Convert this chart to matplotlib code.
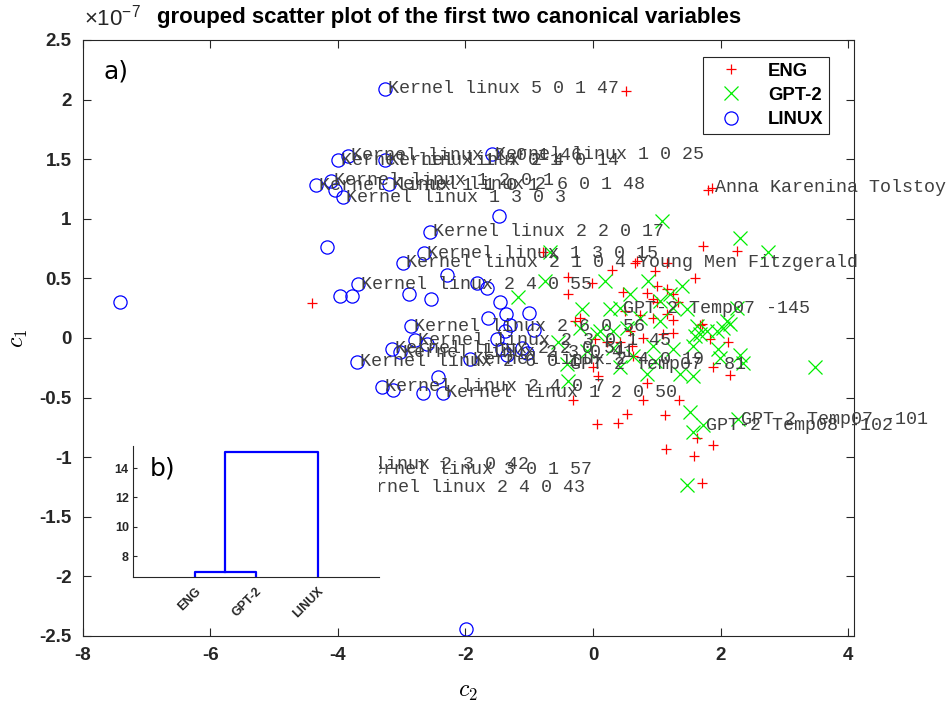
import matplotlib
matplotlib.use('Agg')
import matplotlib.pyplot as plt

# ---------------- data (c1 in units of 1e-7) ----------------
eng_c2 = [0.52, 1.87, 1.80, -4.40, -0.78, 1.72, 2.26, 0.69, 0.97, 0.30, 1.16, 1.60,
          -0.39, -0.02, -0.39, 0.47, 0.85, 1.00, 1.16, 1.25, 1.33, 1.00, -0.28, -0.20,
          0.50, 0.74, 0.94, 1.16, 1.25, 1.68, 1.71, 1.83, 2.12, 0.58, 0.78, 1.10, 1.25,
          0.03, 0.22, 0.42, 0.61, 0.63, 0.00, 0.08, 0.85, 1.88, 2.15, -0.31, 0.78, 1.35,
          0.53, 0.39, 0.06, 1.13, 1.63, 1.88, 1.14, 1.58, 1.71, 0.94, 0.66]
eng_c1 = [2.07, 1.26, 1.24, 0.29, 0.72, 0.77, 0.73, 0.65, 0.56, 0.57, 0.63, 0.50,
          0.51, 0.46, 0.37, 0.39, 0.38, 0.44, 0.41, 0.37, 0.30, 0.30, 0.14, 0.17,
          0.23, 0.19, 0.17, 0.20, 0.15, 0.11, 0.12, -0.01, -0.03, 0.06, 0.00, 0.03, 0.04,
          -0.01, -0.03, -0.03, -0.07, -0.15, -0.24, -0.32, -0.38, -0.24, -0.31, -0.52, -0.52, -0.52,
          -0.64, -0.71, -0.72, -0.65, -0.84, -0.90, -0.93, -0.99, -1.22, 0.33, 0.63]
eng_names = {1: 'Anna Karenina Tolstoy', 60: 'Young Men Fitzgerald'}

gpt_c2 = [1.08, 2.30, 2.74, -0.67, -0.75, 0.19, 0.86, 1.39, -1.18, -0.17, 0.27, 0.58,
          1.21, 1.47, 2.26, 2.10, 1.94, 1.63, 1.68, 0.74, 0.53, 0.31, 0.06, -0.20,
          -0.55, -0.09, 0.31, 0.63, 0.94, 1.25, 1.57, 1.96, 1.99, 2.30, 2.35, 1.36,
          1.57, 0.85, -0.39, 3.48, 1.52, 1.57, 1.72, 2.27, 1.47, -0.41, 0.42, 1.25,
          2.04, 2.15, 1.79, 1.60, 0.11, 1.05, 0.97, 0.42, 1.05]
gpt_c1 = [0.98, 0.84, 0.72, 0.72, 0.48, 0.48, 0.48, 0.44, 0.34, 0.24, 0.24, 0.37,
          0.37, 0.24, 0.25, 0.14, 0.06, 0.10, 0.03, 0.17, 0.08, 0.06, 0.03, 0.08,
          -0.03, -0.11, -0.08, -0.15, -0.07, -0.09, -0.07, -0.09, -0.17, -0.14, -0.21, -0.30,
          -0.32, -0.30, -0.36, -0.24, -0.62, -0.79, -0.73, -0.68, -1.23, -0.22, 0.25, 0.25,
          0.08, 0.12, 0.06, 0.02, 0.06, 0.14, -0.19, -0.24, 0.31]
gpt_names = {42: 'GPT-2 Temp08 -102', 43: 'GPT-2 Temp07 -101',
             45: 'GPT-2 Temp07 -81', 46: 'GPT-2 Temp07 -145'}

lin_c2 = [-3.26, -3.84, -4.00, -3.26, -1.58, -4.34, -4.11, -4.04, -3.92, -3.20, -1.47,
          -2.55, -4.17, -2.65, -2.98, -2.29, -3.68, -3.97, -3.78, -2.88, -2.54, -1.82,
          -1.66, -1.46, -1.36, -1.65, -1.00, -1.30, -1.38, -0.92, -2.85, -2.79, -2.60,
          -1.50, -3.15, -3.03, -1.11, -1.03, -1.43, -1.35, -1.93, -3.70, -2.43, -3.31,
          -3.13, -2.66, -2.35, -7.41, -1.99, -4.67, -3.68, -3.79]
lin_c1 = [2.09, 1.53, 1.49, 1.49, 1.54, 1.28, 1.32, 1.24, 1.18, 1.29, 1.02,
          0.89, 0.76, 0.71, 0.63, 0.53, 0.45, 0.35, 0.35, 0.37, 0.33, 0.46,
          0.42, 0.30, 0.20, 0.17, 0.21, 0.11, 0.06, 0.07, 0.10, -0.02, -0.05,
          -0.01, -0.09, -0.12, -0.08, -0.13, -0.09, -0.14, -0.18, -0.20, -0.33, -0.41,
          -0.44, -0.46, -0.46, 0.30, -2.44, -1.06, -1.10, -1.25]
lin_names = {0: 'Kernel linux 5 0 1 47', 1: 'Kernel linux 2 0 1 46', 2: 'Kernel linux 1 4 0 1',
             3: 'Kernel linux 2 4 0 14', 4: 'Kernel linux 1 0 25', 5: 'Kernel linux 1 1 0 1',
             6: 'Kernel linux 1 2 0 1', 8: 'Kernel linux 1 3 0 3', 9: 'Kernel linux 2 6 0 1 48',
             11: 'Kernel linux 2 2 0 17', 13: 'Kernel linux 1 3 0 15', 14: 'Kernel linux 2 1 0 4',
             16: 'Kernel linux 2 4 0 55', 30: 'Kernel linux 2 6 0 56', 31: 'Kernel linux 2 3 0 1 45',
             34: 'Kernel linux 2 2 0 51', 35: 'Kernel linux 2 3 0 41', 40: 'Kernel linux 2 4 0 19',
             41: 'Kernel linux 2 6 0 1', 43: 'Kernel linux 2 4 0 7', 46: 'Kernel linux 1 2 0 50',
             49: 'Kernel linux 2 3 0 42', 50: 'Kernel linux 3 0 1 57', 51: 'Kernel linux 2 4 0 43'}

group_names = ['ENG', 'GPT-2', 'LINUX']
dendro_leaves = ['ENG', 'GPT-2', 'LINUX']
dendro_heights = [6.94, 15.06]

xticks = [-8, -6, -4, -2, 0, 2, 4]
yticks = [-2.5, -2, -1.5, -1, -0.5, 0, 0.5, 1, 1.5, 2, 2.5]

# ---------------- figure ----------------
plt.rcParams['mathtext.fontset'] = 'cm'
fig = plt.figure(figsize=(9.48, 7.03), dpi=100)
W, H = 948, 703
ax = fig.add_axes([82.7 / W, 1 - 636 / H, (854 - 82.7) / W, (636 - 40) / H])

ax.plot(eng_c2, eng_c1, '+', color='red', ms=7.5, mew=0.9, label=group_names[0], ls='none')
ax.plot(gpt_c2, gpt_c1, 'x', color='#00ee00', ms=10, mew=0.9, label=group_names[1], ls='none')
ax.plot(lin_c2, lin_c1, 'o', mfc='none', mec='blue', ms=9.5, mew=0.9, label=group_names[2], ls='none')

lab_font = dict(family='Liberation Mono', size=13.2, color='#404040', va='center', ha='left')
for names, xs, ys in ((lin_names, lin_c2, lin_c1), (eng_names, eng_c2, eng_c1),
                      (gpt_names, gpt_c2, gpt_c1)):
    for i, n in names.items():
        ax.annotate(n, (xs[i], ys[i]), xytext=(2, 0), textcoords='offset points',
                    annotation_clip=False, **lab_font)

ax.set_xlim(-8, 4.09)
ax.set_ylim(-2.5, 2.5)
ax.set_xticks(xticks)
ax.set_yticks(yticks)
ax.set_xticklabels([f'{t:g}' for t in xticks])
ax.set_yticklabels([f'{t:g}' for t in yticks])
ax.tick_params(direction='in', top=True, right=True, length=6, width=0.8,
               labelsize=13.5, colors='#262626', pad=8)
for lbl in ax.get_xticklabels() + ax.get_yticklabels():
    lbl.set_fontweight('bold')
    lbl.set_family('Liberation Sans')
for s in ax.spines.values():
    s.set_color('#262626')
    s.set_linewidth(0.8)

ax.set_xlabel('$c_2$', fontsize=17, labelpad=11)
ax.set_ylabel('$c_1$', fontsize=17, labelpad=7)

fig.text(84 / W, 1 - 18 / H, r'$\mathregular{\times10^{-7}}$', family='Liberation Sans',
         fontsize=16, va='center', ha='left', color='#262626')
fig.text(449 / W, 1 - 18 / H, 'grouped scatter plot of the first two canonical variables',
         family='Liberation Sans', fontweight='bold', fontsize=16, ha='center', va='center',
         color='black')
ax.text(0.027, 0.947, 'a)', transform=ax.transAxes, fontsize=18, family='DejaVu Sans',
        va='center', ha='left')

leg = ax.legend(loc='upper right', bbox_to_anchor=(0.9676, 0.9715), frameon=True,
                fancybox=False, framealpha=1, edgecolor='#262626', borderaxespad=0,
                prop={'family': 'Liberation Sans', 'weight': 'bold', 'size': 13.3},
                handletextpad=0.8, borderpad=0.3, labelspacing=0.4, handlelength=2.4)
leg.get_frame().set_linewidth(0.8)
leg.set_zorder(20)

# ---------------- inset dendrogram ----------------
ax2 = fig.add_axes([133 / W, 1 - 577 / H, (379 - 133) / W, (577 - 446) / H])
ax2.set_zorder(30)
ax2.patch.set_facecolor('white')
pos = list(range(1, len(dendro_leaves) + 1))
h1, h2 = dendro_heights
ax2.plot([pos[0], pos[0], pos[1], pos[1]], [0, h1, h1, 0], color='blue', lw=1.6)
mid = (pos[0] + pos[1]) / 2
ax2.plot([mid, mid, pos[2], pos[2]], [h1, h2, h2, 0], color='blue', lw=1.6)
ax2.set_xlim(0, len(dendro_leaves) + 1)
ax2.set_ylim(6.58, 15.5)
ax2.set_yticks([8, 10, 12, 14])
ax2.set_xticks(pos)
ax2.set_xticklabels(dendro_leaves, rotation=45, ha='right', rotation_mode='anchor')
ax2.tick_params(direction='in', length=3, labelsize=9, colors='#262626', pad=3)
for lbl in ax2.get_xticklabels() + ax2.get_yticklabels():
    lbl.set_fontweight('bold')
    lbl.set_family('Liberation Sans')
ax2.tick_params(axis='x', length=0, pad=6)
ax2.spines['top'].set_visible(False)
ax2.spines['right'].set_visible(False)
for s in ('left', 'bottom'):
    ax2.spines[s].set_color('#262626')
    ax2.spines[s].set_linewidth(0.8)
ax2.text(0.07, 0.83, 'b)', transform=ax2.transAxes, fontsize=18, family='DejaVu Sans',
         va='center', ha='left')

fig.savefig('out.png', dpi=100)
